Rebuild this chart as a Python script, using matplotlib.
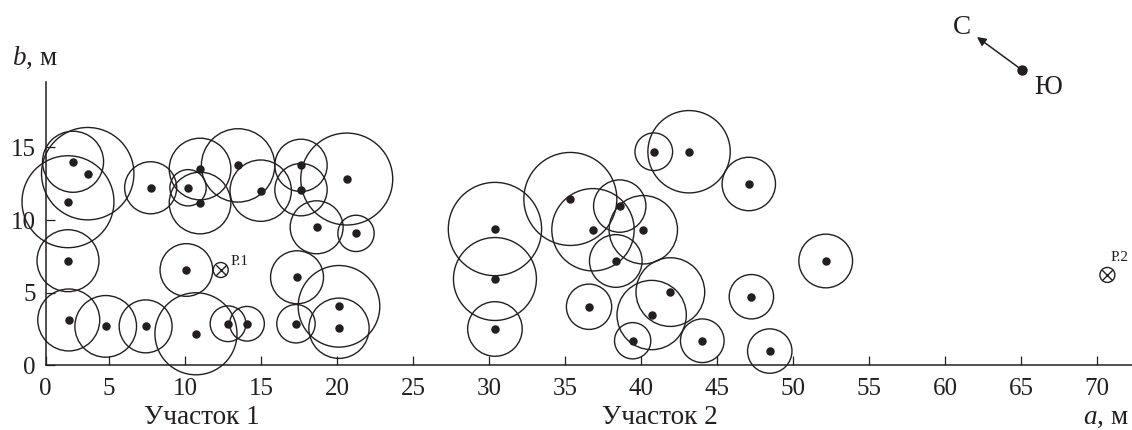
import numpy as np
import matplotlib
matplotlib.use("Agg")
import matplotlib.pyplot as plt

plt.rcParams['font.family'] = ['Liberation Serif', 'DejaVu Serif']
plt.rcParams['mathtext.fontset'] = 'custom'
plt.rcParams['mathtext.rm'] = 'Liberation Serif'
plt.rcParams['mathtext.it'] = 'Liberation Serif:italic'

INK = '#231f20'

# tree positions, m
tree_a = [2.16, 3.32, 1.76, 1.76, 1.82, 4.74, 7.41, 10.72, 12.83, 14.08, 17.30, 20.13, 20.13,
          17.37, 10.09, 7.74, 10.20, 10.99, 10.99, 13.49, 14.98, 17.63, 17.63, 20.64, 18.66, 21.25,
          30.39, 30.39, 30.39, 35.35, 36.84, 38.60, 40.15, 38.34, 36.58, 40.70, 41.93, 39.45,
          44.03, 48.47, 47.26, 52.15, 47.09, 43.16, 40.84]
tree_b = [14.01, 13.19, 11.26, 7.20, 3.12, 2.68, 2.68, 2.17, 2.86, 2.86, 2.86, 2.55, 4.06,
          6.06, 6.56, 12.22, 12.22, 13.51, 11.17, 13.76, 12.02, 13.76, 12.09, 12.82, 9.50, 9.08,
          9.38, 5.94, 2.50, 11.45, 9.33, 10.96, 9.33, 7.18, 4.03, 3.46, 5.04, 1.69,
          1.69, 0.98, 4.72, 7.18, 12.48, 14.70, 14.70]
# circle diameters, m
tree_d = [4.07, 6.16, 6.13, 4.13, 4.13, 4.11, 3.53, 5.47, 2.38, 2.31, 2.56, 4.02, 5.44,
          3.53, 3.51, 3.47, 2.42, 4.11, 4.11, 4.89, 4.09, 3.49, 3.49, 6.13, 3.53, 2.42,
          6.22, 5.53, 3.64, 6.20, 5.49, 3.49, 4.56, 3.51, 3.02, 4.62, 4.58, 2.42,
          2.91, 2.96, 2.96, 3.58, 3.56, 5.49, 2.51]

plots_a = [12.35, 70.68]
plots_b = [6.56, 6.22]
plots_names = ['Р.1', 'Р.2']
plots_offset = [(7.2, 5.8), (2.4, 12.2)]

x_ticks = [0, 5, 10, 15, 20, 25, 30, 35, 40, 45, 50, 55, 60, 65, 70]
y_ticks = [0, 5, 10, 15]
areas = ['Участок 1', 'Участок 2']


def fwd(x):
    x = np.asarray(x, dtype=float)
    return np.where(x < 5, 0.8355 + x * 0.8329, x)


def inv(x):
    x = np.asarray(x, dtype=float)
    return np.where(x < 5, (x - 0.8355) / 0.8329, x)


W, H = 1132, 430
PX = 15.0          # pixels per metre for circle sizes
fig = plt.figure(figsize=(W / 100, H / 100), dpi=100)
ax = fig.add_axes([45.7 / W, (H - 365.3) / H, (W - 45.7) / W, (365.3 - 82) / H])
ax.set_xscale('function', functions=(fwd, inv))
ax.set_xlim(0, 72.3)
ax.set_ylim(0, 19.5)
ax.set_xticks(x_ticks)
ax.set_yticks(y_ticks)
ax.minorticks_off()
ax.patch.set_alpha(0)
for s in ('top', 'right'):
    ax.spines[s].set_visible(False)
for s in ('left', 'bottom'):
    ax.spines[s].set_linewidth(1.1)
    ax.spines[s].set_color(INK)
ax.tick_params(axis='x', direction='in', length=6.5, width=0.9, color=INK, pad=9,
               labelsize=18, labelcolor=INK)
ax.tick_params(axis='y', direction='in', length=6.5, width=0.9, color=INK, pad=7,
               labelsize=18, labelcolor=INK)

sizes = [(d * PX * 0.72) ** 2 for d in tree_d]
ax.scatter(tree_a, tree_b, s=sizes, facecolors='none', edgecolors=INK, linewidths=1.0,
           clip_on=False, zorder=3)
ax.scatter(tree_a, tree_b, s=37, color=INK, linewidths=0, clip_on=False, zorder=4)

ax.scatter(plots_a, plots_b, s=(15 * 0.72) ** 2, facecolors='none', edgecolors=INK,
           linewidths=1.0, clip_on=False, zorder=4)
ax.scatter(plots_a, plots_b, s=(10.5 * 0.72) ** 2, marker='x', color=INK,
           linewidths=1.0, clip_on=False, zorder=4)
for xa, yb, name, off in zip(plots_a, plots_b, plots_names, plots_offset):
    ax.annotate(name, (xa, yb), xytext=off, textcoords='offset points', fontsize=11,
                color=INK, va='center', ha='left', annotation_clip=False)


def ftext(px, py, s, **kw):
    fig.text(px / W, 1 - py / H, s, color=INK, fontsize=kw.pop('fontsize', 19.5),
             va='center', ha=kw.pop('ha', 'center'), **kw)


ftext(202, 417, areas[0])
ftext(660, 417, areas[1])
ftext(1129, 417, '$a$, м', ha='right')
ftext(12, 58, '$b$, м', ha='left')
ftext(962, 27, 'С')
ftext(1048, 87, 'Ю')

ax.annotate('', xy=(977 / W, 1 - 37 / H), xytext=(1022 / W, 1 - 70 / H),
            xycoords='figure fraction', textcoords='figure fraction',
            arrowprops=dict(arrowstyle='-|>', color=INK, lw=1.1, mutation_scale=13,
                            shrinkA=0, shrinkB=0))
fig.add_artist(plt.Line2D([1022 / W], [1 - 70 / H], marker='o', ms=7.5, color=INK, mew=0,
                          transform=fig.transFigure))

fig.savefig('out.png', dpi=100)
